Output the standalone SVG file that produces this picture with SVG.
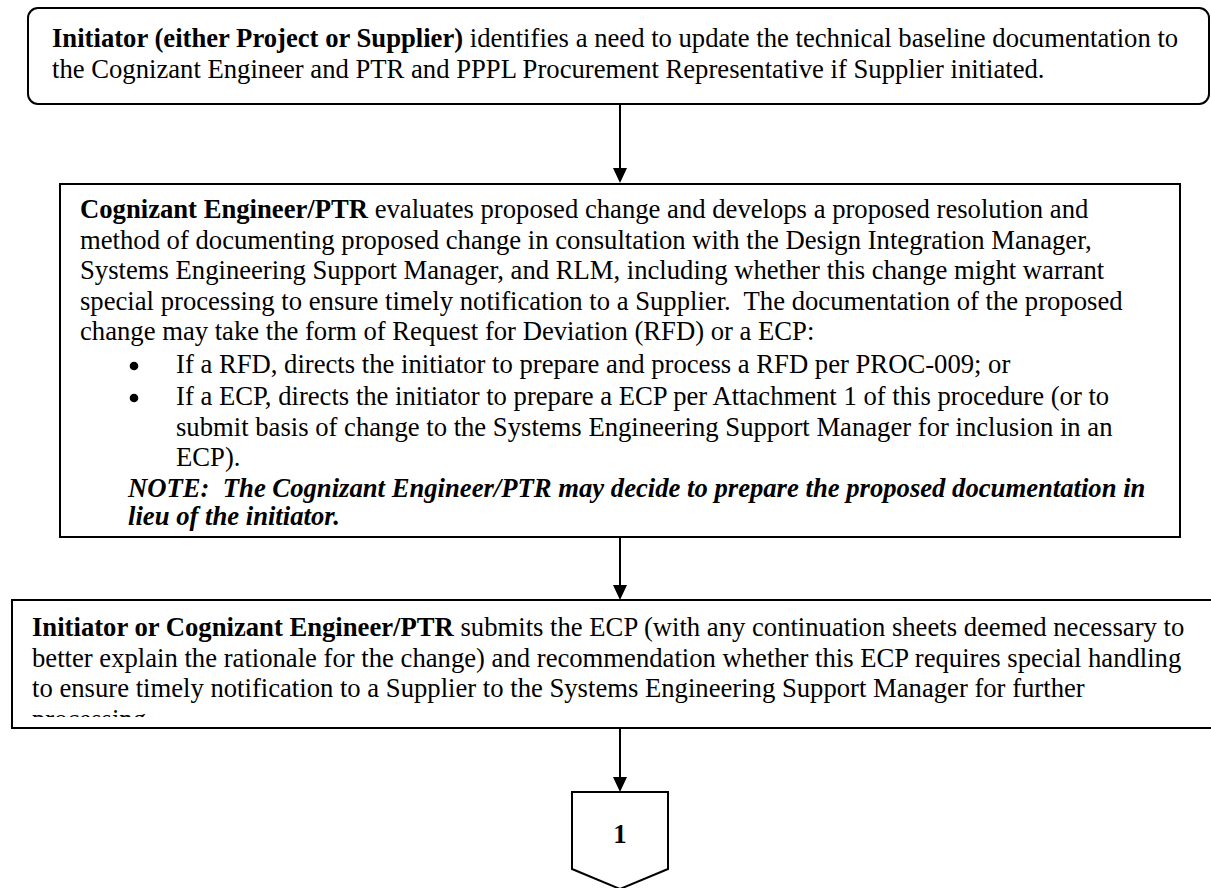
<svg xmlns="http://www.w3.org/2000/svg" width="1211" height="888" viewBox="0 0 1211 888">
<style>
.box{fill:#fff;stroke:#000;stroke-width:2}
.t{font-family:"Liberation Serif","Times New Roman",serif;font-size:26.67px;fill:#000;white-space:pre}
.b{font-weight:bold}
.bi{font-weight:bold;font-style:italic}
.conn{stroke:#000;stroke-width:2;fill:none}
.dot{fill:#000}
</style>
<defs>
<clipPath id="c3"><rect x="12" y="600" width="1200" height="117"/></clipPath>
</defs>
<rect width="1211" height="888" fill="#fff"/>
<g id="connectors">
<line class="conn" x1="620" y1="105" x2="620" y2="170"/>
<path d="M613,168 L627,168 L620,183 Z" fill="#000"/>
<line class="conn" x1="620" y1="538" x2="620" y2="587"/>
<path d="M613,585 L627,585 L620,600 Z" fill="#000"/>
<line class="conn" x1="620" y1="729" x2="620" y2="779"/>
<path d="M613,777 L627,777 L620,792 Z" fill="#000"/>
</g>
<g id="node1">
<rect class="box" x="28" y="8" width="1181" height="96" rx="10" ry="10"/>
<text class="t" x="52" y="47"><tspan class="b">Initiator (either Project or Supplier)</tspan> identifies a need to update the technical baseline documentation to</text>
<text class="t" x="52" y="77.7">the Cognizant Engineer and PTR and PPPL Procurement Representative if Supplier initiated.</text>
</g>
<g id="node2">
<rect class="box" x="60" y="184" width="1120" height="353"/>
<text class="t" x="80" y="218"><tspan class="b">Cognizant Engineer/PTR</tspan> evaluates proposed change and develops a proposed resolution and</text>
<text class="t" x="80" y="248.6">method of documenting proposed change in consultation with the Design Integration Manager,</text>
<text class="t" x="80" y="279.2">Systems Engineering Support Manager, and RLM, including whether this change might warrant</text>
<text class="t" x="80" y="309.8">special processing to ensure timely notification to a Supplier.  The documentation of the proposed</text>
<text class="t" x="80" y="340.4">change may take the form of Request for Deviation (RFD) or a ECP:</text>
<circle class="dot" cx="134" cy="366" r="4.3"/>
<text class="t" x="176" y="373">If a RFD, directs the initiator to prepare and process a RFD per PROC-009; or</text>
<circle class="dot" cx="134" cy="398" r="4.3"/>
<text class="t" x="176" y="405">If a ECP, directs the initiator to prepare a ECP per Attachment 1 of this procedure (or to</text>
<text class="t" x="176" y="435.6">submit basis of change to the Systems Engineering Support Manager for inclusion in an</text>
<text class="t" x="176" y="466.2">ECP).</text>
<text class="t bi" x="128" y="496.8">NOTE:  The Cognizant Engineer/PTR may decide to prepare the proposed documentation in</text>
<text class="t bi" x="128" y="525">lieu of the initiator.</text>
</g>
<g id="node3">
<rect class="box" x="12" y="600" width="1220" height="128"/>
<g clip-path="url(#c3)">
<text class="t" x="32" y="636"><tspan class="b">Initiator or Cognizant Engineer/PTR</tspan> submits the ECP (with any continuation sheets deemed necessary to</text>
<text class="t" x="32" y="666.6">better explain the rationale for the change) and recommendation whether this ECP requires special handling</text>
<text class="t" x="32" y="697.2">to ensure timely notification to a Supplier to the Systems Engineering Support Manager for further</text>
<text class="t" x="32" y="727.8">processing.</text>
</g>
</g>
<g id="connector1">
<path class="box" d="M572,792 L668,792 L668,869 L620,889 L572,869 Z"/>
<text class="t b" x="620" y="843" text-anchor="middle">1</text>
</g>
</svg>
